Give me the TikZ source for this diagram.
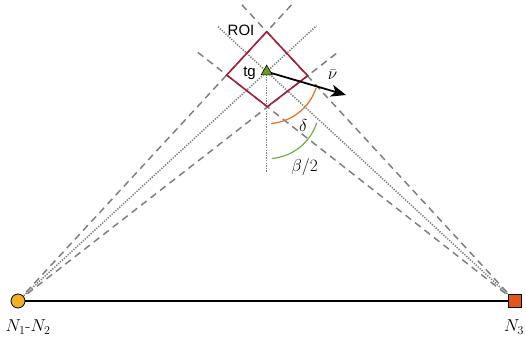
\documentclass[tikz,border=0pt]{standalone}
\usepackage{fontspec}
\newfontfamily\hv{Liberation Sans}
\usetikzlibrary{calc,arrows.meta,shapes.geometric,backgrounds}
\definecolor{roicol}{HTML}{A3213D}
\definecolor{n1col}{HTML}{EFAF26}
\definecolor{n3col}{HTML}{E2561B}
\definecolor{arcor}{HTML}{EE6C1E}
\definecolor{arcgr}{HTML}{6DB33F}
\definecolor{tgcol}{HTML}{6B9A22}
\definecolor{lncol}{HTML}{808080}
\begin{document}
\begin{tikzpicture}[x=1pt,y=1pt,
  dashln/.style={draw=lncol, line width=1.5pt, dash pattern=on 7pt off 5pt},
  dotln/.style={draw=lncol, line width=1.5pt, dash pattern=on 1.3pt off 1.3pt},
  roiln/.style={draw=roicol, line width=1.6pt, line join=miter},
  arcln/.style={line width=1.2pt},
  sanslbl/.style={font=\hv\fontsize{15}{17}\selectfont, inner sep=0pt},
  mathlbl/.style={font=\fontsize{17}{19}\selectfont, inner sep=0pt},
  sensor/.style={draw=black, line width=0.8pt, inner sep=0pt, minimum size=14pt}]
\useasboundingbox (0,0) rectangle (526,348);
% nodes
\node[sensor, circle, fill=n1col] (N1) at (18,47) {};
\node[sensor, rectangle, fill=n3col, minimum size=13.5pt] (N3) at (515,47) {};
\node[regular polygon, regular polygon sides=3, draw=black, line width=0.6pt,
      fill=tgcol, inner sep=0pt, minimum size=13pt] (tg) at (266.7,276.3) {};
% ROI vertices
\coordinate (T) at (266.7,316.3);
\coordinate (L) at (226.7,273);
\coordinate (R) at (307.7,272.3);
\coordinate (B) at (267.3,241.3);
\coordinate (vend) at (266.7,176);
\coordinate (nuend) at (346,253);
\begin{scope}[on background layer]
  % beams
  \draw[dashln] (N1.center) -- ($(N1.center)!1.10!(T)$);
  \draw[dashln] (N1.center) -- ($(N1.center)!1.11!(R)$);
  \draw[dashln] (N3.center) -- ($(N3.center)!1.10!(T)$);
  \draw[dashln] (N3.center) -- ($(N3.center)!1.10!(L)$);
  \draw[dotln] (N1.center) -- ($(N1.center)!1.20!(tg.center)$);
  \draw[dotln] (N3.center) -- ($(N3.center)!1.20!(tg.center)$);
  \draw[dotln] (tg.center) -- (vend);
  % baseline
  \draw[line width=1.4pt] (N1.center) -- (N3.center);
  % ROI
  \draw[roiln] (T) -- (R) -- (B) -- (L) -- cycle;
  % arcs
  \draw[arcln, draw=arcor] ($(tg.center)+(-85:52)$) arc[start angle=-85, end angle=-18, radius=52];
  \draw[arcln, draw=arcgr] ($(B)+(-85:52)$) arc[start angle=-85, end angle=-18, radius=52];
  % direction arrow
  \draw[line width=1.8pt, -{Stealth[length=15pt,width=12pt,inset=4pt]}] (tg.center) -- (nuend);
\end{scope}
% labels
\node[sanslbl, anchor=base] (roilbl) at (241,312.5) {ROI};
\node[sanslbl, anchor=base] (tglbl) at (249.5,271) {tg};
\node[mathlbl] (nulbl) at (332.7,273) {$\bar{\nu}$};
\node[mathlbl] (dlbl) at (303.3,222) {$\delta$};
\node[mathlbl] (blbl) at (304.5,181) {$\beta/2$};
\node[mathlbl] (n12lbl) at (28,21) {$N_1$-$N_2$};
\node[mathlbl] (n3lbl) at (514,21) {$N_3$};
\end{tikzpicture}
\end{document}
